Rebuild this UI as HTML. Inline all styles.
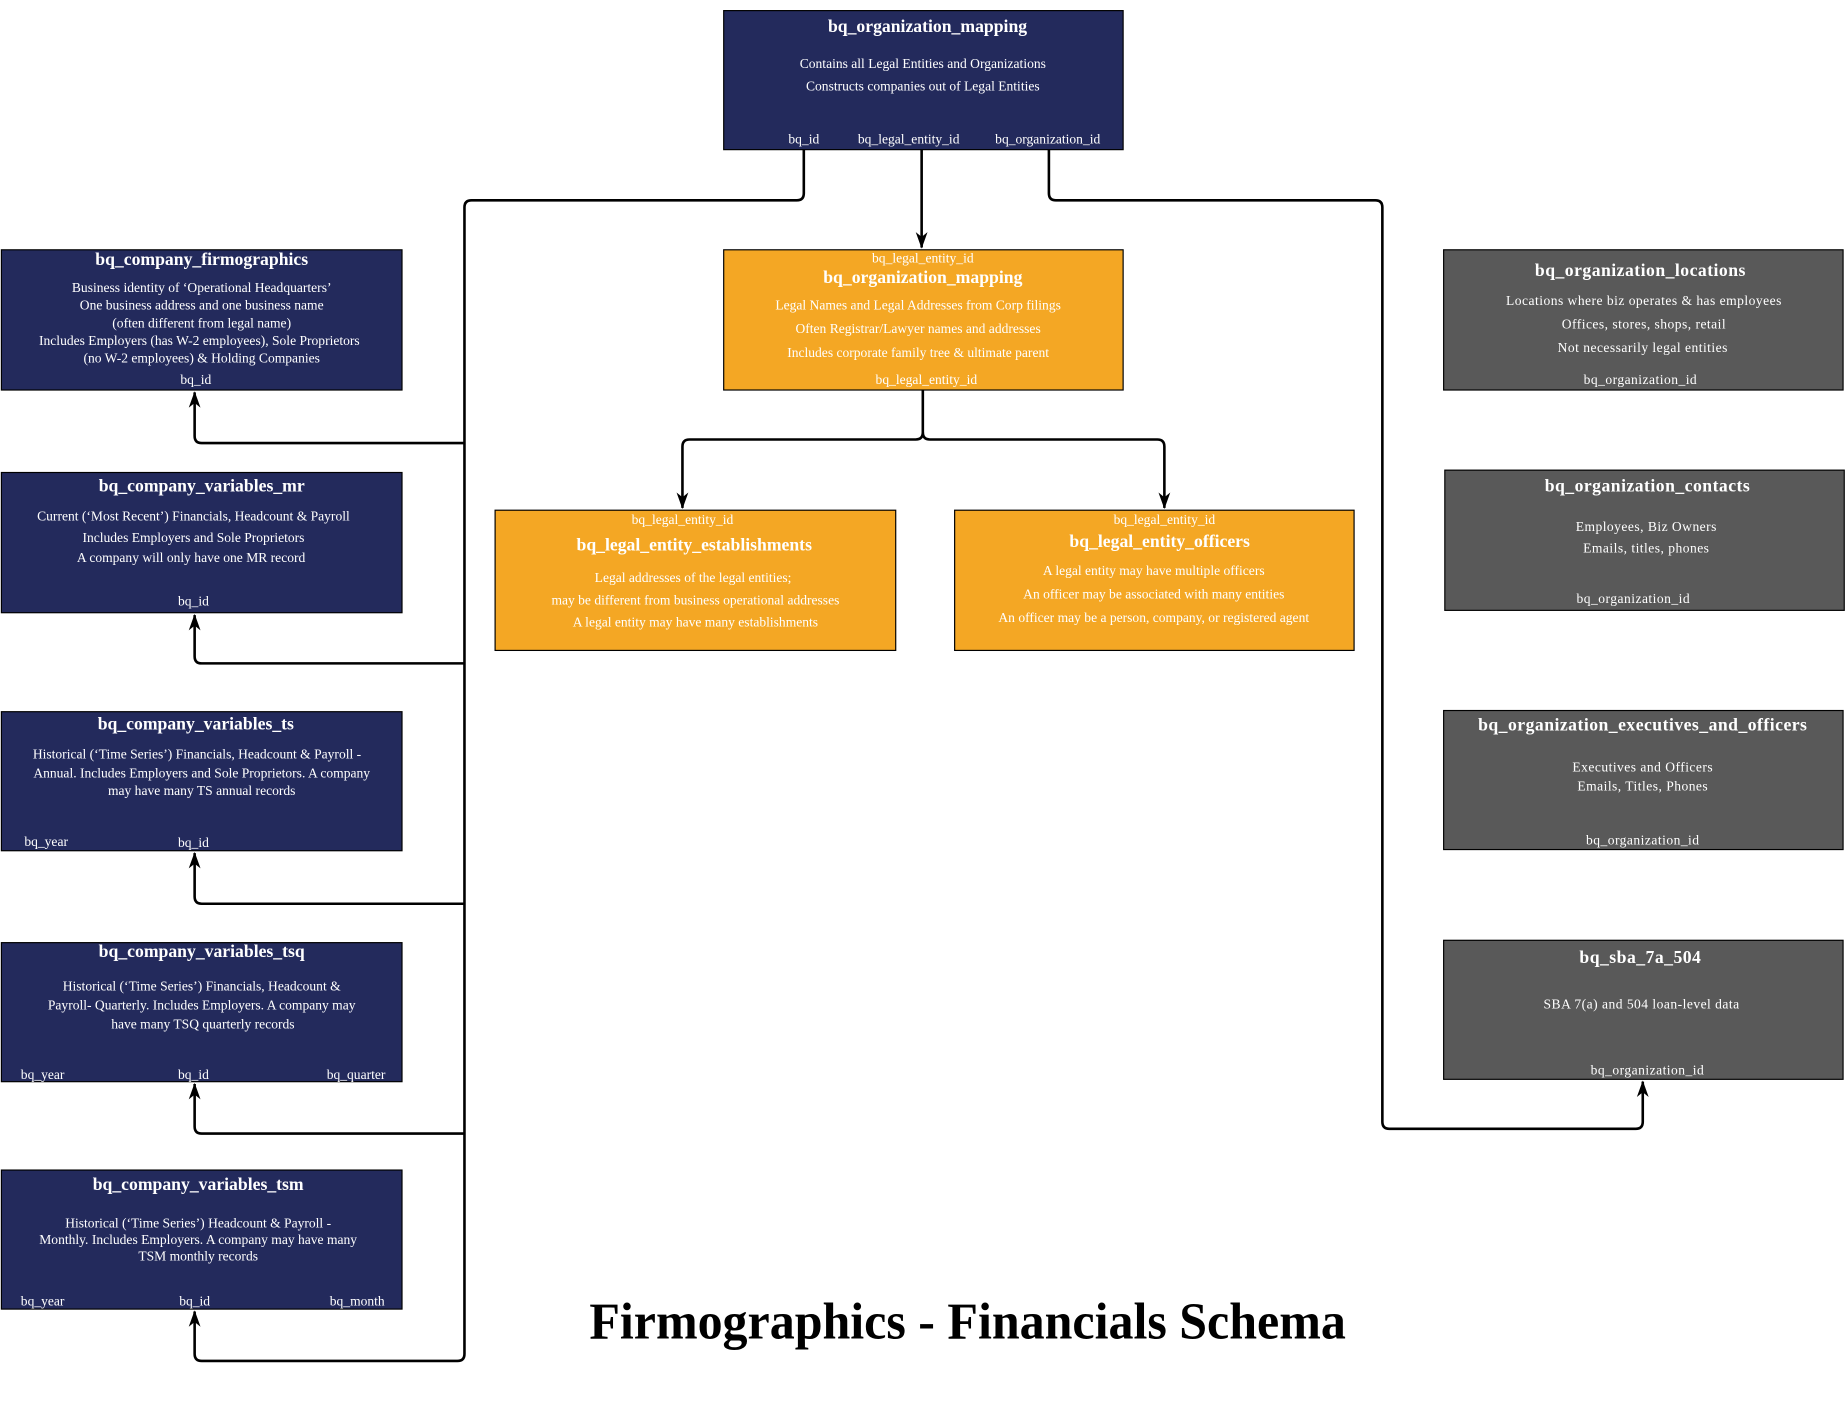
<!DOCTYPE html>
<html><head><meta charset="utf-8"><style>
html,body{margin:0;padding:0;background:#fff;}
svg{display:block}
text{font-family:"Liberation Serif",serif;fill:#fff;dominant-baseline:central;text-anchor:middle}
.t{font-weight:bold;font-size:15px}
.b{font-size:11.5px}
.k{font-size:11.5px}
.w{letter-spacing:0.4px}
</style></head><body>
<svg width="1848" height="1401" viewBox="0 0 1568 1189" xmlns="http://www.w3.org/2000/svg">
<defs><marker id="a" markerWidth="12" markerHeight="14" refX="6" refY="13" orient="0" markerUnits="userSpaceOnUse"><path d="M1,0 L6,14 L11,0 L6,4 Z" fill="#000"/></marker>
<marker id="u" markerWidth="12" markerHeight="14" refX="6" refY="1" orient="0" markerUnits="userSpaceOnUse"><path d="M1,14 L6,0 L11,14 L6,10 Z" fill="#000"/></marker></defs>
<g fill="none" stroke="#000" stroke-width="2.2">
<path d="M682,127 V164 Q682,170 676,170 H400 Q394,170 394,176 V1149 Q394,1155 388,1155 H171 Q165,1155 165,1149 V1113" marker-end="url(#u)"/>
<path d="M394,376 H171 Q165,376 165,370 V333" marker-end="url(#u)"/>
<path d="M394,563 H171 Q165,563 165,557 V522" marker-end="url(#u)"/>
<path d="M394,767 H171 Q165,767 165,761 V724" marker-end="url(#u)"/>
<path d="M394,962 H171 Q165,962 165,956 V920" marker-end="url(#u)"/>
<path d="M782,127 V210" marker-end="url(#a)"/>
<path d="M890,127 V164 Q890,170 896,170 H1167 Q1173,170 1173,176 V952 Q1173,958 1179,958 H1388 Q1394,958 1394,952 V918" marker-end="url(#u)"/>
<path d="M783,331 V367 Q783,373 777,373 H585 Q579,373 579,379 V431" marker-end="url(#a)"/>
<path d="M783,367 Q783,373 789,373 H982 Q988,373 988,379 V431" marker-end="url(#a)"/>
</g>
<g stroke="#000" stroke-width="1">
<rect x="614" y="9" width="339" height="118" fill="#232a5c"/>
<rect x="614" y="212" width="339" height="119" fill="#f4a724"/>
<rect x="420" y="433" width="340" height="119" fill="#f4a724"/>
<rect x="810" y="433" width="339" height="119" fill="#f4a724"/>
<rect x="1" y="212" width="340" height="119" fill="#232a5c"/>
<rect x="1" y="401" width="340" height="119" fill="#232a5c"/>
<rect x="1" y="604" width="340" height="118" fill="#232a5c"/>
<rect x="1" y="800" width="340" height="118" fill="#232a5c"/>
<rect x="1" y="993" width="340" height="118" fill="#232a5c"/>
<rect x="1225" y="212" width="339" height="119" fill="#595959"/>
<rect x="1226" y="399" width="339" height="119" fill="#595959"/>
<rect x="1225" y="603" width="339" height="118" fill="#595959"/>
<rect x="1225" y="798" width="339" height="118" fill="#595959"/>
</g>
<text class="t" x="787" y="22">bq_organization_mapping</text>
<text class="b" x="783" y="54">Contains all Legal Entities and Organizations</text>
<text class="b" x="783" y="73">Constructs companies out of Legal Entities</text>
<text class="k" x="682" y="118">bq_id</text><text class="k" x="771" y="118">bq_legal_entity_id</text><text class="k" x="889" y="118">bq_organization_id</text>

<text class="k" x="783" y="219">bq_legal_entity_id</text>
<text class="t" x="783" y="235">bq_organization_mapping</text>
<text class="b" x="779" y="259">Legal Names and Legal Addresses from Corp filings</text>
<text class="b" x="779" y="279">Often Registrar/Lawyer names and addresses</text>
<text class="b" x="779" y="299">Includes corporate family tree &amp; ultimate parent</text>
<text class="k" x="786" y="322">bq_legal_entity_id</text>

<text class="k" x="579" y="441">bq_legal_entity_id</text>
<text class="t" x="589" y="462">bq_legal_entity_establishments</text>
<text class="b" x="588" y="490">Legal addresses of the legal entities;</text>
<text class="b" x="590" y="509">may be different from business operational addresses</text>
<text class="b" x="590" y="528">A legal entity may have many establishments</text>

<text class="k" x="988" y="441">bq_legal_entity_id</text>
<text class="t" x="984" y="459">bq_legal_entity_officers</text>
<text class="b" x="979" y="484">A legal entity may have multiple officers</text>
<text class="b" x="979" y="504">An officer may be associated with many entities</text>
<text class="b" x="979" y="524">An officer may be a person, company, or registered agent</text>

<text class="t" x="171" y="220">bq_company_firmographics</text>
<text class="b" x="171" y="244">Business identity of ‘Operational Headquarters’</text>
<text class="b" x="171" y="259">One business address and one business name</text>
<text class="b" x="171" y="274">(often different from legal name)</text>
<text class="b" x="169" y="289">Includes Employers (has W-2 employees), Sole Proprietors</text>
<text class="b" x="171" y="304">(no W-2 employees) &amp; Holding Companies</text>
<text class="k" x="166" y="322">bq_id</text>

<text class="t" x="171" y="412">bq_company_variables_mr</text>
<text class="b" x="164" y="438">Current (‘Most Recent’) Financials, Headcount &amp; Payroll</text>
<text class="b" x="164" y="456">Includes Employers and Sole Proprietors</text>
<text class="b" x="162" y="473">A company will only have one MR record</text>
<text class="k" x="164" y="510">bq_id</text>

<text class="t" x="166" y="614">bq_company_variables_ts</text>
<text class="b" x="167" y="640">Historical (‘Time Series’) Financials, Headcount &amp; Payroll -</text>
<text class="b" x="171" y="656">Annual. Includes Employers and Sole Proprietors. A company</text>
<text class="b" x="171" y="671">may have many TS annual records</text>
<text class="k" x="39" y="714">bq_year</text><text class="k" x="164" y="715">bq_id</text>

<text class="t" x="171" y="807">bq_company_variables_tsq</text>
<text class="b" x="171" y="837">Historical (‘Time Series’) Financials, Headcount &amp;</text>
<text class="b" x="171" y="853">Payroll- Quarterly.  Includes Employers. A company may</text>
<text class="b" x="172" y="869">have many TSQ quarterly records</text>
<text class="k" x="36" y="912">bq_year</text><text class="k" x="164" y="912">bq_id</text><text class="k" x="302" y="912">bq_quarter</text>

<text class="t" x="168" y="1005">bq_company_variables_tsm</text>
<text class="b" x="168" y="1038">Historical (‘Time Series’) Headcount &amp; Payroll -</text>
<text class="b" x="168" y="1052">Monthly. Includes Employers. A company may have many</text>
<text class="b" x="168" y="1066">TSM monthly records</text>
<text class="k" x="36" y="1104">bq_year</text><text class="k" x="165" y="1104">bq_id</text><text class="k" x="303" y="1104">bq_month</text>

<text class="t w" x="1392" y="229">bq_organization_locations</text>
<text class="b w" x="1395" y="255">Locations where biz operates &amp; has employees</text>
<text class="b w" x="1395" y="275">Offices, stores, shops, retail</text>
<text class="b w" x="1394" y="295">Not necessarily legal entities</text>
<text class="k w" x="1392" y="322">bq_organization_id</text>

<text class="t w" x="1398" y="412">bq_organization_contacts</text>
<text class="b w" x="1397" y="447">Employees, Biz Owners</text>
<text class="b w" x="1397" y="465">Emails, titles, phones</text>
<text class="k w" x="1386" y="508">bq_organization_id</text>

<text class="t w" x="1394" y="615">bq_organization_executives_and_officers</text>
<text class="b w" x="1394" y="651">Executives and Officers</text>
<text class="b w" x="1394" y="667">Emails, Titles, Phones</text>
<text class="k w" x="1394" y="713">bq_organization_id</text>

<text class="t w" x="1392" y="812">bq_sba_7a_504</text>
<text class="b w" x="1393" y="852">SBA 7(a) and 504 loan-level data</text>
<text class="k w" x="1398" y="908">bq_organization_id</text>

<text x="821" y="1122" style="fill:#000;font-weight:bold;font-size:44px" textLength="642" lengthAdjust="spacingAndGlyphs">Firmographics - Financials Schema</text>
</svg>
</body></html>
